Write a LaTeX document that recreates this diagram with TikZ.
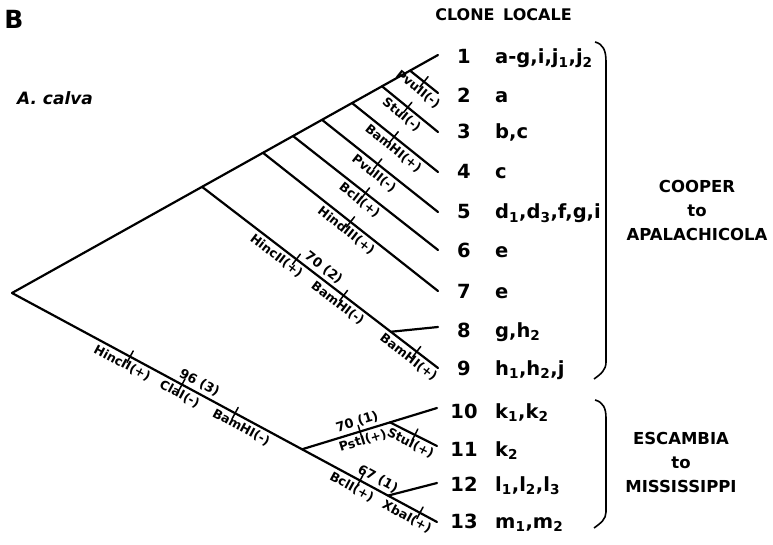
\documentclass[tikz,border=0pt]{standalone}
\usepackage{fontspec}
\usetikzlibrary{decorations.markings}
\newfontfamily\leroy{DejaVu Sans}
\begin{document}
\begin{tikzpicture}[x=1pt, y=-1pt, every node/.style={font=\leroy\bfseries},
  branch/.style={line width=2.2pt, line cap=round},
  cut/.style={postaction={decorate, decoration={markings, mark=at position #1 with {\draw[line width=1.5pt] (0,-6.5) -- (0,6.5);}}}},
  enz/.style={sloped, below, inner sep=3pt, font=\leroy\bfseries\fontsize{12.5}{14}\selectfont},
  score/.style={sloped, above, inner sep=3pt, font=\leroy\bfseries\fontsize{13}{15}\selectfont},
  clone/.style={anchor=base, font=\leroy\bfseries\fontsize{19.5}{22}\selectfont},
  locale/.style={anchor=base west, inner sep=0pt, font=\leroy\bfseries\fontsize{19.5}{22}\selectfont},
  region/.style={align=center, font=\leroy\bfseries\fontsize{16.5}{24}\selectfont},
  brace/.style={line width=1.6pt}]
  \useasboundingbox (0,0) rectangle (773,545);
  \node[font=\leroy\bfseries\fontsize{25}{28}\selectfont] (panel) at (14,19) {B};
  \node[font=\leroy\bfseries\itshape\fontsize{17}{20}\selectfont] (species) at (55,98) {A. calva};
  \node[anchor=base, font=\leroy\bfseries\fontsize{16}{18}\selectfont] (hclone) at (465,21) {CLONE};
  \node[anchor=base west, inner sep=0pt, font=\leroy\bfseries\fontsize{16}{18}\selectfont] (hlocale) at (503,21) {LOCALE};
  % clones and locales
  \node[clone] (c1) at (464,64) {1};   \node[locale] (l1) at (495,64) {a-g,i,j\textsubscript{1},j\textsubscript{2}};
  \node[clone] (c2) at (464,103) {2};  \node[locale] (l2) at (495,103) {a};
  \node[clone] (c3) at (464,139) {3};  \node[locale] (l3) at (495,139) {b,c};
  \node[clone] (c4) at (464,179) {4};  \node[locale] (l4) at (495,179) {c};
  \node[clone] (c5) at (464,219) {5};  \node[locale] (l5) at (495,219) {d\textsubscript{1},d\textsubscript{3},f,g,i};
  \node[clone] (c6) at (464,258) {6};  \node[locale] (l6) at (495,258) {e};
  \node[clone] (c7) at (464,298) {7};  \node[locale] (l7) at (495,298) {e};
  \node[clone] (c8) at (464,337) {8};  \node[locale] (l8) at (495,337) {g,h\textsubscript{2}};
  \node[clone] (c9) at (464,375) {9};  \node[locale] (l9) at (495,375) {h\textsubscript{1},h\textsubscript{2},j};
  \node[clone] (c10) at (464,418) {10}; \node[locale] (l10) at (495,418) {k\textsubscript{1},k\textsubscript{2}};
  \node[clone] (c11) at (464,456) {11}; \node[locale] (l11) at (495,456) {k\textsubscript{2}};
  \node[clone] (c12) at (464,491) {12}; \node[locale] (l12) at (495,491) {l\textsubscript{1},l\textsubscript{2},l\textsubscript{3}};
  \node[clone] (c13) at (464,528) {13}; \node[locale] (l13) at (495,528) {m\textsubscript{1},m\textsubscript{2}};
  \node[region] (east) at (697,210) {COOPER\\to\\APALACHICOLA};
  \node[region] (west) at (681,462) {ESCAMBIA\\to\\MISSISSIPPI};
  \draw[brace] (595,42) .. controls (603,44) and (606,50) .. (606,62) -- (606,362) .. controls (606,370) and (601,374) .. (594,379);
  \draw[brace] (595,400) .. controls (603,402) and (606,408) .. (606,418) -- (606,512) .. controls (606,519) and (601,523) .. (594,528);
  % tree
  \coordinate (root) at (12,293);
  \coordinate (t1) at (438,55);  \coordinate (t2) at (438,93);   \coordinate (t3) at (438,132);
  \coordinate (t4) at (438,172); \coordinate (t5) at (438,212);  \coordinate (t6) at (438,250);
  \coordinate (t7) at (438,291); \coordinate (t8) at (438,327);  \coordinate (t9) at (438,368);
  \coordinate (t10) at (437,408); \coordinate (t11) at (437,446); \coordinate (t12) at (437,483);
  \coordinate (t13) at (437,522);
  \coordinate (j2) at (410,70.6); \coordinate (j3) at (382,86.3); \coordinate (j4) at (352,103);
  \coordinate (j5) at (322,119.8); \coordinate (j6) at (293,136); \coordinate (j7) at (263,152.8);
  \coordinate (j89) at (202,186.8); \coordinate (j10) at (302,449.3); \coordinate (j12) at (388,495.6);
  \draw[branch] (root) -- (t1);
  \draw[branch, cut=.278, cut=.40, cut=.525, cut=.819, cut=.96] (root) -- (t13)
    node[enz, pos=.27] {HincII(+)} node[enz, pos=.405] {ClaI(-)} node[score, pos=.43] {96 (3)}
    node[enz, pos=.55] {BamHI(-)} node[enz, pos=.81] {BclI(+)} node[score, pos=.85] {67 (1)}
    node[enz, pos=.94] {XbaI(+)};
  \draw[branch, cut=.5] (j2) -- (t2) node[enz, pos=.5] {PvuII(-)};
  \draw[branch, cut=.46] (j3) -- (t3) node[enz, pos=.46] {StuI(-)};
  \draw[branch, cut=.49] (j4) -- (t4) node[enz, pos=.55] {BamHI(+)};
  \draw[branch, cut=.48] (j5) -- (t5) node[enz, pos=.5] {PvuII(-)};
  \draw[branch, cut=.5] (j6) -- (t6) node[enz, pos=.5] {BclI(+)};
  \draw[branch, cut=.5] (j7) -- (t7) node[enz, pos=.51] {HindIII(+)};
  \draw[branch, cut=.40, cut=.60, cut=.91] (j89) -- (t9) node[enz, pos=.34] {HincII(+)}
    node[score, pos=.49] {70 (2)} node[enz, pos=.60] {BamHI(-)}
    node[enz, pos=.90] {BamHI(+)} coordinate[pos=.80] (j8);
  \draw[branch] (j8) -- (t8);
  \draw[branch, cut=.43] (j10) -- (t10) node[enz, pos=.43] {PstI(+)}
    node[score, pos=.43] {70 (1)} coordinate[pos=.652] (j11);
  \draw[branch, cut=.53] (j11) -- (t11) node[enz, pos=.53] {StuI(+)};
  \draw[branch] (j12) -- (t12);
\end{tikzpicture}
\end{document}
